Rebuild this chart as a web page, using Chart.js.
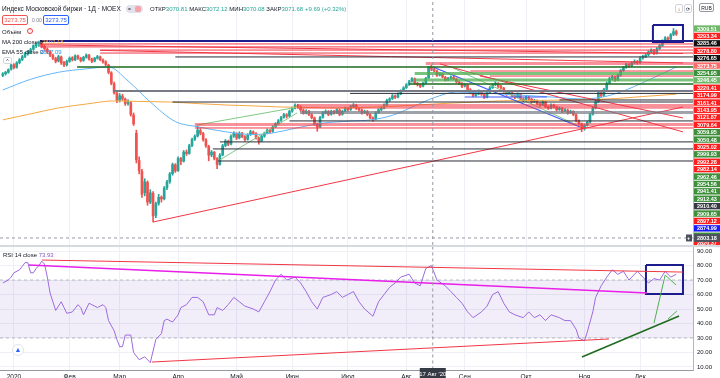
<!DOCTYPE html>
<html>
<head>
<meta charset="utf-8">
<script src="https://cdn.jsdelivr.net/npm/chart.js@4.4.1/dist/chart.umd.min.js"></script>
<style>
  body { margin: 0; background: #fff; }
  #wrap { position: relative; width: 720px; height: 378px; overflow: hidden; font-family: "Liberation Sans", Arial, sans-serif; color: #131722; }
  canvas { position: absolute; left: 0; }
  #cTop { top: 0; }
  #cRsi { top: 247px; }
  .sep { position: absolute; left: 0; top: 245px; width: 720px; height: 2px; background: #d6d9e0; }
  .t { position: absolute; white-space: nowrap; font-size: 6px; line-height: 8px; }
  .g { color: #26a69a; }
  .box { position: absolute; box-sizing: border-box; border-radius: 2px; text-align: center; font-size: 6px; line-height: 8px; white-space: nowrap; background: #fff; }
</style>
</head>
<body>
<div id="wrap">
  <canvas id="cTop" width="720" height="245"></canvas>
  <div class="sep"></div>
  <canvas id="cRsi" width="720" height="139"></canvas>

  <!-- legend top left -->
  <div class="t" style="left:2px;top:5px;font-size:6.5px">Индекс Московской биржи · 1Д · MOEX</div>
  <div class="box" style="left:126px;top:5px;width:17px;height:8px;background:#e0e3eb;border-radius:4px;font-size:5px;line-height:8px;text-align:left;padding-left:2px">=</div>
  <div class="box" style="left:135px;top:6px;width:6px;height:6px;background:#f7a1a8;"></div>
  <div class="t" style="left:150px;top:5px">ОТКР<span class="g">3070.81</span> МАКС<span class="g">3072.12</span> МИН<span class="g">3070.08</span> ЗАКР<span class="g">3071.68</span> <span class="g">+9.69 (+0.32%)</span></div>
  <div class="box" style="left:2px;top:15px;width:26px;height:10px;border:1px solid #ef5350;color:#ef5350">3273.75</div>
  <div class="t" style="left:32px;top:16px;font-size:5px;color:#787b86">0.00</div>
  <div class="box" style="left:43px;top:15px;width:26px;height:10px;border:1px solid #2962ff;color:#2962ff">3273.75</div>
  <div class="t" style="left:2px;top:28px">Объём</div>
  <div class="box" style="left:27px;top:28px;width:6px;height:6px;border:1px solid #f23645;border-radius:50%;color:#f23645;font-size:4px;line-height:4px">!</div>
  <div class="t" style="left:2px;top:38px">MA 200 close 0</div>
  <div class="t" style="left:42px;top:38px;color:#f5a742">2803.18</div>
  <div class="t" style="left:2px;top:48px">EMA 55 close 0</div>
  <div class="t" style="left:40px;top:48px;color:#2196f3">2857.09</div>
  <div class="box" style="left:3px;top:57px;width:9px;height:7px;border:1px solid #d1d4dc;font-size:5px;line-height:6px">^</div>

  <!-- axis buttons top right -->
  <div class="box" style="left:675px;top:4px;width:8px;height:9px;border:1px solid #d1d4dc;font-size:5px">↓</div>
  <div class="box" style="left:684px;top:4px;width:8px;height:9px;border:1px solid #d1d4dc;font-size:5px">⟳</div>
  <div class="box" style="left:699px;top:3px;width:15px;height:9px;border:1px solid #9598a1;font-size:5px">RUB</div>

  <!-- rsi legend -->
  <div class="t" style="left:3px;top:251px">RSI 14 close <span style="color:#7e57c2">73.93</span></div>
  <div class="box" style="left:12px;top:344px;width:12px;height:12px;border-radius:50%;border:1px solid #e0e3eb;color:#2962ff;font-size:7px;line-height:10px">▲</div>
</div>

<script>
// ---- data ----
// daily candles [open, high, low, close], last days of Dec 2019 to mid Dec 2020
const ohlc = [
  [3010,3028,3002,3020],[3020,3036,3012,3030],[3030,3052,3024,3046],[3050,3082,3044,3076],[3078,3086,3052,3060],[3062,3098,3056,3090],
  [3092,3118,3084,3110],[3112,3138,3104,3130],[3132,3158,3124,3150],[3148,3170,3140,3160],[3162,3184,3150,3175],[3178,3206,3170,3200],
  [3200,3216,3188,3210],[3212,3230,3196,3220],[3218,3224,3186,3195],[3196,3204,3170,3180],[3178,3186,3150,3160],[3160,3168,3130,3140],
  [3138,3146,3110,3120],[3118,3126,3090,3100],[3102,3140,3096,3130],[3128,3134,3080,3090],[3092,3100,3066,3076],[3078,3108,3070,3100],
  [3100,3128,3094,3120],[3122,3130,3102,3110],[3110,3142,3104,3135],[3134,3140,3112,3120],[3118,3126,3096,3105],[3106,3132,3100,3125],
  [3126,3148,3120,3140],[3138,3144,3108,3115],[3114,3120,3092,3100],[3102,3126,3096,3120],[3120,3138,3114,3130],[3128,3134,3104,3110],
  [3108,3116,3088,3095],[3096,3104,3072,3080],[3076,3082,3020,3030],[3026,3034,2950,2960],[2956,2968,2890,2900],[2896,2904,2836,2850],
  [2852,2894,2840,2880],[2878,2890,2850,2860],[2858,2866,2818,2830],[2832,2856,2820,2840],[2836,2844,2750,2760],[2756,2770,2690,2700],
  [2640,2660,2450,2470],[2466,2490,2380,2400],[2396,2410,2230,2250],[2260,2350,2240,2330],[2326,2336,2180,2200],[2200,2280,2190,2260],
  [2256,2268,2073,2112],[2116,2200,2100,2190],[2192,2250,2180,2230],[2232,2240,2200,2220],[2222,2300,2214,2290],[2292,2340,2280,2330],
  [2332,2390,2320,2380],[2382,2450,2372,2440],[2438,2446,2390,2400],[2402,2490,2396,2480],[2478,2486,2440,2460],[2462,2530,2456,2520],
  [2520,2534,2498,2510],[2512,2570,2506,2560],[2562,2610,2554,2600],[2602,2630,2594,2620],[2622,2685,2616,2660],[2658,2670,2630,2640],
  [2638,2646,2590,2600],[2598,2606,2550,2560],[2556,2564,2464,2500],[2502,2530,2490,2520],[2518,2524,2470,2480],[2478,2484,2414,2440],
  [2442,2510,2436,2500],[2502,2570,2496,2560],[2562,2600,2554,2590],[2588,2596,2560,2570],[2572,2630,2566,2620],[2622,2650,2614,2640],
  [2638,2644,2600,2610],[2612,2650,2604,2640],[2638,2646,2612,2620],[2618,2626,2590,2600],[2602,2638,2596,2630],[2632,2660,2626,2650],
  [2648,2656,2632,2640],[2638,2644,2602,2610],[2608,2614,2570,2590],[2592,2628,2586,2620],[2622,2648,2614,2640],[2642,2668,2636,2660],
  [2658,2666,2640,2650],[2652,2688,2646,2680],[2682,2708,2676,2700],[2702,2728,2694,2720],[2722,2748,2716,2740],[2742,2768,2736,2760],
  [2758,2766,2738,2750],[2752,2788,2746,2780],[2782,2808,2774,2800],[2802,2828,2796,2820],[2818,2826,2800,2810],[2808,2816,2782,2790],
  [2788,2796,2762,2770],[2772,2790,2764,2780],[2778,2786,2752,2760],[2758,2766,2732,2740],[2738,2744,2690,2700],[2698,2706,2653,2680],
  [2682,2748,2676,2740],[2742,2778,2736,2770],[2772,2790,2764,2780],[2778,2786,2752,2760],[2762,2788,2756,2780],[2778,2786,2762,2770],
  [2772,2798,2766,2790],[2788,2796,2752,2760],[2762,2788,2756,2780],[2782,2808,2776,2800],[2798,2806,2782,2790],[2792,2818,2786,2810],
  [2812,2830,2804,2820],[2818,2826,2792,2800],[2798,2806,2782,2790],[2788,2796,2762,2770],[2772,2788,2766,2780],[2778,2786,2752,2760],
  [2758,2766,2732,2740],[2738,2746,2716,2730],[2732,2778,2726,2770],[2772,2798,2766,2790],[2792,2808,2784,2800],[2802,2828,2796,2820],
  [2822,2858,2816,2850],[2852,2868,2844,2860],[2862,2888,2856,2880],[2878,2886,2862,2870],[2872,2898,2866,2890],[2892,2918,2886,2910],
  [2912,2938,2906,2930],[2932,2958,2926,2950],[2952,2978,2946,2970],[2972,2996,2966,2990],[2988,2994,2952,2960],[2958,2966,2942,2950],
  [2948,2956,2932,2940],[2942,2968,2936,2960],[2962,2998,2956,2990],[2994,3068,2990,3062],[3062,3075,3040,3050],[3048,3056,3032,3040],
  [3038,3044,3004,3010],[3012,3028,3006,3020],[3018,3024,2994,3000],[2998,3004,2974,2980],[2982,2998,2976,2990],[2992,3008,2986,3000],
  [2998,3006,2982,2990],[2988,2994,2962,2970],[2968,2974,2952,2960],[2958,2964,2932,2940],[2942,2958,2936,2950],[2948,2954,2912,2920],
  [2918,2926,2892,2900],[2898,2904,2872,2880],[2882,2898,2876,2890],[2892,2918,2886,2910],[2908,2914,2882,2890],[2888,2894,2862,2870],
  [2872,2908,2866,2900],[2902,2938,2896,2930],[2932,2958,2926,2950],[2952,2970,2944,2960],[2958,2964,2932,2940],[2938,2946,2922,2930],
  [2928,2934,2902,2910],[2908,2914,2882,2890],[2892,2908,2886,2900],[2898,2904,2872,2880],[2878,2886,2862,2870],[2872,2898,2866,2890],
  [2888,2894,2852,2860],[2858,2866,2842,2850],[2852,2878,2846,2870],[2868,2876,2852,2860],[2858,2864,2832,2840],[2842,2858,2836,2850],
  [2848,2854,2822,2830],[2828,2836,2812,2820],[2822,2848,2816,2840],[2838,2844,2802,2810],[2808,2816,2792,2800],[2802,2828,2796,2820],
  [2818,2826,2802,2810],[2808,2814,2782,2790],[2792,2808,2786,2800],[2798,2806,2772,2780],[2782,2798,2776,2790],[2788,2794,2762,2770],
  [2772,2788,2766,2780],[2778,2784,2752,2760],[2758,2764,2712,2720],[2718,2726,2692,2700],[2698,2706,2650,2670],[2672,2698,2660,2690],
  [2692,2718,2686,2710],[2712,2768,2706,2760],[2762,2808,2756,2800],[2802,2850,2796,2840],[2842,2908,2836,2900],[2898,2906,2872,2880],
  [2882,2928,2876,2920],[2922,2968,2916,2960],[2962,2998,2956,2990],[2992,3010,2984,3000],[2998,3006,2972,2980],[2982,3018,2976,3010],
  [3012,3048,3006,3040],[3042,3068,3036,3060],[3062,3088,3056,3080],[3078,3086,3062,3070],[3072,3098,3066,3090],[3092,3110,3084,3100],
  [3098,3106,3082,3090],[3092,3128,3086,3120],[3122,3140,3114,3130],[3132,3150,3124,3140],[3142,3168,3136,3160],[3162,3180,3154,3170],
  [3168,3176,3142,3150],[3152,3188,3146,3180],[3182,3208,3176,3200],[3202,3238,3196,3230],[3232,3258,3226,3250],[3248,3256,3232,3240],
  [3242,3278,3236,3270],[3272,3309.51,3264,3290],[3290,3300,3266,3273.75]
];

// moving averages, [day, value]
const ma200 = [[0,2726],[10,2764],[20,2802],[30,2827],[40,2847],[50,2843],[60,2840],[70,2830],[80,2821],[90,2815],[100,2808],[110,2805],
  [120,2802],[130,2805],[140,2812],[150,2822],[160,2832],[170,2840],[180,2848],[190,2850],[200,2852],[210,2855],[220,2862],[230,2875],[242,2890]];
const ema55 = [[0,2917],[10,2985],[20,3030],[30,3052],[38,3064],[45,2975],[53,2840],[62,2715],[70,2682],[80,2650],[90,2632],[97,2642],
  [105,2672],[115,2705],[125,2718],[132,2725],[140,2755],[148,2815],[155,2868],[163,2904],[172,2898],[185,2885],[197,2872],[208,2860],
  [215,2870],[222,2904],[232,2980],[242,3064]];

// RSI 14, [day, value]
const rsi = [[0,68],[2,70],[3,72],[4,75],[6,77],[8,82],[9,82],[10,75],[11,75],[12,78],[13,80],[14,83],[15,81],[16,72],[17,61],[19,49],
  [21,55],[22,51],[23,47],[25,48],[27,53],[28,51],[29,46],[31,54],[32,53],[34,51],[36,53],[37,51],[38,42],[40,35],[41,29],[42,24],[43,24],
  [44,32],[46,32],[47,20],[49,15],[51,17],[53,13],[55,29],[57,33],[58,42],[59,43],[61,41],[63,46],[64,51],[66,53],[68,58],[70,58],[72,55],
  [74,46],[76,46],[77,51],[79,49],[81,53],[83,58],[85,55],[87,52],[90,50],[92,48],[94,55],[96,62],[98,70],[100,74],[102,70],[105,72],
  [107,68],[109,62],[111,55],[113,50],[115,58],[118,60],[120,62],[122,58],[124,60],[126,62],[128,55],[130,50],[133,45],[135,55],[137,60],
  [139,65],[141,68],[143,72],[146,74],[148,68],[150,66],[152,78],[154,80],[156,70],[159,66],[161,62],[163,58],[165,54],[167,48],[169,44],
  [172,48],[174,52],[176,60],[178,62],[180,54],[182,48],[184,46],[187,44],[189,48],[191,44],[193,46],[195,42],[197,46],[200,44],[202,42],
  [204,42],[206,36],[207,30],[209,28],[210,34],[212,48],[213,58],[215,66],[217,72],[219,77],[221,74],[223,76],[225,70],[228,76],[230,72],
  [232,68],[234,71],[236,70],[238,76],[240,72],[242,74]];
const rsiBand = [30, 70];
const rsiTicks = [10, 20, 30, 40, 50, 60, 70, 80, 90];

// x axis: first bar of each month
const monthTicks = [4, 24, 42, 63, 84, 104, 124, 145, 166, 188, 209, 229];
const monthNames = ['2020', 'Фев', 'Мар', 'Апр', 'Май', 'Июн', 'Июл', 'Авг', 'Сен', 'Окт', 'Ноя', 'Дек'];

// horizontal levels drawn on the price pane
const levelPrice = [3230, 3211, 3192, 3172, 3153, 3128, 3086, 3064, 3038, 3022, 3006, 2981, 2955, 2910, 2895, 2872, 2853, 2840, 2818, 2802, 2773, 2719, 2696, 2674, 2585, 2540, 2463];
const levelFrom  = [13.4, 13.4, 13.4, 35, 35, 62, 152, 26.7, 168, 148, 175, 148, 146, 39.6, 124.8, 166, 200, 61, 105.7, 105.7, 106.8, 103, 69, 69, 78, 75.5, 77.3];
const levelTo    = [null, null, null, null, null, null, null, null, null, null, null, null, null, null, null, 195.5, null, null, null, null, null, null, null, null, null, null, null];
const levelKind  = ['navy', 'red', 'red', 'red', 'red', 'dark', 'redBand', 'darkGreen', 'red', 'greenBand', 'red', 'greenBand', 'darkGreen', 'grey', 'dark', 'blue', 'dark', 'dark', 'redBand', 'red', 'greyBand', 'dark', 'redBand', 'red', 'dark', 'dark', 'dark'];

// trend lines on the price pane, [day, price]
const trendFrom = [[54, 2073], [157.1, 3083], [171.5, 3006], [154.6, 3064], [161.8, 3057], [69.8, 2693], [78, 2470], [13.4, 3205], [35, 3170]];
const trendTo   = [[244.4, 2808], [244.4, 2649], [244.4, 2738], [207.4, 2680], [206.3, 2693], [104.3, 2802], [105.7, 2770], [244.4, 3150], [244.4, 3090]];
const trendKind = ['red', 'red', 'red', 'blue', 'lightGreen', 'lightGreen', 'lightGreen', 'red', 'red'];
const priceBox = [[233.6, 3332], [244.4, 3224]];

// trend lines on the RSI pane, [day, rsi]
const rsiFrom = [[14.1, 83.8], [9.4, 80.3], [53.6, 13.4], [208.1, 16.9], [239, 43.1], [234, 40.3], [238, 73.4]];
const rsiTo   = [[244.4, 75.5], [231.5, 61], [217.8, 29.3], [243, 45.2], [242.2, 48.6], [238, 73.4], [241.9, 66.6]];
const rsiKind = ['red', 'magenta', 'red', 'darkGreen', 'green', 'green', 'green'];
const rsiBox = [[231.1, 80.3], [244.4, 60.3]];

// price tags on the right scale
const tagValues = [3309.51, 3293.34, 3285.46, 3278.80, 3276.65, 3273.75, 3254.95, 3246.45, 3220.41, 3174.99, 3161.41, 3143.95, 3121.87, 3079.64,
  3059.95, 3050.48, 3025.02, 2999.93, 2992.28, 2982.14, 2962.46, 2954.56, 2941.41, 2912.43, 2910.40, 2909.65, 2897.12, 2874.99, 2850.11, 2820.37];
const tagKinds = ['lg', 'r', 'k', 'r', 'k', 'lr', 'g', 'lg', 'r', 'r', 'r', 'r', 'r', 'r',
  'g', 'g', 'r', 'g', 'r', 'r', 'g', 'g', 'g', 'g', 'dg', 'g', 'r', 'b', 'g', 'r'];

// crosshair
const crossDay = 154.5, crossPrice = 1971, crossLabel = '2803.18', crossDate = "17 Авг '20";

// ---- look ----
const X_MIN = -1, X_MAX = 248, P_MIN = 1926, P_MAX = 3492;
const UP = '#26a69a', DOWN = '#ef5350';
const lineStyle = {
  navy: { c: '#1c1c8f', w: 2 },
  red: { c: '#f23645', w: 1 },
  redBand: { c: 'rgba(242,54,69,0.55)', w: 3 },
  dark: { c: '#2a2e39', w: 1 },
  darkGreen: { c: '#1e6b1e', w: 1.5 },
  greenBand: { c: 'rgba(76,175,80,0.75)', w: 3 },
  grey: { c: '#787b86', w: 2 },
  greyBand: { c: 'rgba(120,123,134,0.7)', w: 3 },
  blue: { c: '#3d5afe', w: 1.2 },
  lightGreen: { c: '#81c784', w: 1 },
  magenta: { c: '#e91ee9', w: 1.5 },
  green: { c: '#4caf50', w: 1 }
};
const tagColors = { lg: '#6fb86a', g: '#3d8f3a', r: '#ff1e1e', lr: '#ff6b6b', k: '#111111', dg: '#363a45', b: '#1a1aff' };
const TAG_H = 7.4;

Chart.defaults.font.family = '"Liberation Sans", Arial, sans-serif';

function seg(a, b, kind, order) {
  const s = lineStyle[kind];
  return {
    type: 'line', data: [{ x: a[0], y: a[1] }, { x: b[0], y: b[1] }],
    borderColor: s.c, borderWidth: s.w, pointRadius: 0, order: order, borderCapStyle: 'butt'
  };
}
function rect(a, b, order) {
  return {
    type: 'line', order: order, pointRadius: 0, borderColor: '#1c1c8f', borderWidth: 2,
    data: [{ x: a[0], y: a[1] }, { x: b[0], y: a[1] }, { x: b[0], y: b[1] }, { x: a[0], y: b[1] }, { x: a[0], y: a[1] }]
  };
}
function dashed(a, b, order) {
  return {
    type: 'line', order: order, pointRadius: 0, borderColor: '#9598a1', borderWidth: 1, borderDash: [3, 3],
    data: [{ x: a[0], y: a[1] }, { x: b[0], y: b[1] }]
  };
}
const toXY = p => ({ x: p[0], y: p[1] });

// ---- price pane ----
const topSets = [];
topSets.push(dashed([crossDay, P_MIN], [crossDay, P_MAX], 0));
topSets.push(dashed([X_MIN, crossPrice], [X_MAX, crossPrice], 0));
levelPrice.forEach((p, k) => {
  topSets.push(seg([levelFrom[k], p], [levelTo[k] === null ? X_MAX : levelTo[k], p], levelKind[k], 1));
});
trendFrom.forEach((a, k) => topSets.push(seg(a, trendTo[k], trendKind[k], 1)));
topSets.push(rect(priceBox[0], priceBox[1], 1));
topSets.push({ type: 'line', data: ma200.map(toXY), borderColor: '#f5a742', borderWidth: 1, pointRadius: 0, cubicInterpolationMode: 'monotone', order: 2 });
topSets.push({ type: 'line', data: ema55.map(toXY), borderColor: '#64b5f6', borderWidth: 1, pointRadius: 0, cubicInterpolationMode: 'monotone', order: 2 });

const candleColor = ohlc.map(c => c[3] >= c[0] ? UP : DOWN);
topSets.push({
  type: 'bar', order: 3, grouped: false, barThickness: 2, minBarLength: 1,
  data: ohlc.map((c, i) => ({ x: i, y: [Math.min(c[0], c[3]), Math.max(c[0], c[3])] })),
  backgroundColor: candleColor
});
topSets.push({
  type: 'bar', order: 4, grouped: false, barThickness: 1,
  data: ohlc.map((c, i) => ({ x: i, y: [c[2], c[1]] })),
  backgroundColor: candleColor
});

const tagPlugin = {
  id: 'tags',
  afterDraw(chart) {
    const ctx = chart.ctx, y = chart.scales.y, left = chart.chartArea.right;
    let prev = -Infinity;
    ctx.save();
    ctx.font = 'bold 5.5px "Liberation Sans", Arial';
    ctx.textBaseline = 'middle';
    tagValues.forEach((v, k) => {
      const py = Math.max(y.getPixelForValue(v), prev + TAG_H);
      prev = py;
      ctx.fillStyle = tagColors[tagKinds[k]];
      ctx.fillRect(left + 1, py - TAG_H / 2 + 0.5, 26, TAG_H - 1);
      ctx.fillStyle = '#fff';
      ctx.fillText(v.toFixed(2), left + 4, py + 0.5);
    });
    // crosshair label
    const cy = y.getPixelForValue(crossPrice);
    ctx.fillStyle = '#4c525e';
    ctx.fillRect(left + 1, cy - 4, 26, 8);
    ctx.fillRect(left - 7, cy - 3.5, 6, 7);
    ctx.fillStyle = '#fff';
    ctx.fillText(crossLabel, left + 4, cy + 0.5);
    ctx.fillText('+', left - 6, cy + 0.5);
    ctx.restore();
  }
};

new Chart(document.getElementById('cTop'), {
  type: 'bar',
  data: { datasets: topSets },
  options: {
    responsive: false, animation: false, events: [],
    layout: { padding: 0 },
    plugins: { legend: { display: false }, tooltip: { enabled: false } },
    scales: {
      x: {
        type: 'linear', min: X_MIN, max: X_MAX, offset: false,
        grid: { color: '#eef0f5', drawTicks: false, offset: false },
        border: { display: false }, ticks: { display: false },
        afterBuildTicks: s => { s.ticks = monthTicks.map(v => ({ value: v })); },
        afterFit: s => { s.height = 0; }
      },
      y: {
        type: 'linear', position: 'right', min: P_MIN, max: P_MAX,
        grid: { display: false }, ticks: { display: false },
        border: { color: '#b2b5be' },
        afterFit: s => { s.width = 27; }
      }
    }
  },
  plugins: [tagPlugin]
});

// ---- RSI pane ----
const rsiSets = [];
rsiSets.push(dashed([crossDay, 0], [crossDay, 100], 0));
rsiFrom.forEach((a, k) => rsiSets.push(seg(a, rsiTo[k], rsiKind[k], 1)));
rsiSets.push(rect(rsiBox[0], rsiBox[1], 1));
rsiSets.push({ data: rsi.map(toXY), borderColor: '#9c6ade', borderWidth: 1, pointRadius: 0, order: 2 });
rsiBand.forEach(v => rsiSets.push({
  data: [{ x: X_MIN, y: v }, { x: X_MAX, y: v }], borderColor: '#b8bbc4', borderWidth: 1, borderDash: [3, 3], pointRadius: 0, order: 3
}));

const bandPlugin = {
  id: 'band',
  beforeDatasetsDraw(chart) {
    const { ctx, chartArea: a, scales: { y } } = chart;
    const top = y.getPixelForValue(rsiBand[1]), bottom = y.getPixelForValue(rsiBand[0]);
    ctx.save();
    ctx.fillStyle = 'rgba(126,87,194,0.1)';
    ctx.fillRect(a.left, top, a.right - a.left, bottom - top);
    ctx.restore();
  },
  afterDraw(chart) {
    const { ctx, chartArea: a, scales: { x } } = chart;
    const px = x.getPixelForValue(crossDay);
    ctx.save();
    ctx.fillStyle = '#363a45';
    ctx.fillRect(px - 13, a.bottom - 2, 26, 12);
    ctx.fillStyle = '#fff';
    ctx.font = '6px "Liberation Sans", Arial';
    ctx.textAlign = 'center';
    ctx.textBaseline = 'middle';
    ctx.fillText(crossDate, px, a.bottom + 4);
    ctx.restore();
  }
};

new Chart(document.getElementById('cRsi'), {
  type: 'line',
  data: { datasets: rsiSets },
  options: {
    responsive: false, animation: false, events: [],
    layout: { padding: 0 },
    plugins: { legend: { display: false }, tooltip: { enabled: false } },
    scales: {
      x: {
        type: 'linear', min: X_MIN, max: X_MAX, offset: false,
        grid: { color: '#eef0f5', drawTicks: false },
        border: { color: '#9598a1' },
        ticks: {
          autoSkip: false, maxRotation: 0, padding: 3, color: '#131722', font: { size: 6.5 },
          callback: v => { const k = monthTicks.indexOf(v); return k < 0 ? '' : monthNames[k]; }
        },
        afterBuildTicks: s => { s.ticks = monthTicks.map(v => ({ value: v })); },
        afterFit: s => { s.height = 16; s.paddingLeft = 0; s.paddingRight = 0; }
      },
      y: {
        type: 'linear', position: 'right', min: 7.9, max: 92.8,
        grid: { color: '#eef0f5', drawTicks: false },
        border: { color: '#b2b5be' },
        ticks: { padding: 4, color: '#131722', font: { size: 6 }, callback: v => v.toFixed(2) },
        afterBuildTicks: s => { s.ticks = rsiTicks.map(v => ({ value: v })); },
        afterFit: s => { s.width = 27; s.paddingTop = 0; s.paddingBottom = 0; }
      }
    }
  },
  plugins: [bandPlugin]
});
</script>
</body>
</html>
